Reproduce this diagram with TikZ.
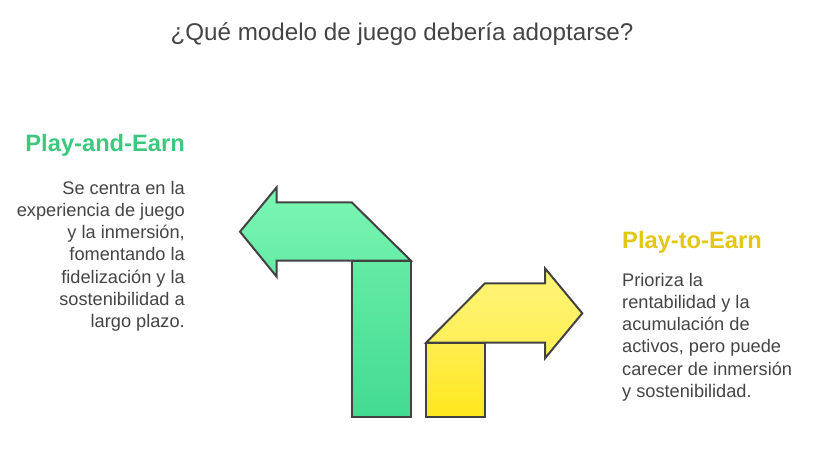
\documentclass[tikz,border=0pt]{standalone}
\usepackage{fontspec}
\setmainfont{Liberation Sans}
\definecolor{txt}{HTML}{444444}
\definecolor{edge}{HTML}{424242}
\definecolor{gHead}{HTML}{3CC97E}
\definecolor{yHead}{HTML}{E2C714}
\definecolor{gTop}{HTML}{7CF6B4}
\definecolor{gMid}{HTML}{64EBA5}
\definecolor{gBot}{HTML}{43DA92}
\definecolor{yTop}{HTML}{FFF47A}
\definecolor{yMid}{HTML}{FFEE52}
\definecolor{yBot}{HTML}{FFE81C}
\tikzset{
  shapeline/.style={draw=edge, line width=2pt, line join=miter},
  body/.style={inner sep=0pt, text=txt, font=\fontsize{18.2}{22.2}\selectfont},
  headg/.style={inner sep=0pt, text=gHead, font=\fontsize{23.7}{26}\selectfont\bfseries},
  heady/.style={inner sep=0pt, text=yHead, font=\fontsize{23.7}{26}\selectfont\bfseries},
}
\begin{document}
\begin{tikzpicture}[x=1pt,y=-1pt]
\useasboundingbox (0,0) rectangle (824,449);
% title
\node[inner sep=0pt, anchor=base, text=txt, font=\fontsize{24.2}{28}\selectfont] (title) at (402,41) {¿Qué modelo de juego debería adoptarse?};
% green arrow
\shade[shapeline, top color=gTop, bottom color=gMid] (240,231.7) -- (276.7,187.3) -- (276.7,202.3) -- (351.7,202.3) -- (411,260.7) -- (276.7,260.7) -- (276.7,276.7) -- cycle;
\shade[shapeline, top color=gMid, bottom color=gBot] (351.7,260.7) rectangle (411,417.3);
% yellow arrow
\shade[shapeline, top color=yTop, bottom color=yMid] (426,342.7) -- (485,283.3) -- (545,283.3) -- (545,268.3) -- (582.3,313.3) -- (545,358.3) -- (545,342.7) -- cycle;
\shade[shapeline, top color=yMid, bottom color=yBot] (426,342.7) rectangle (485,416.7);
% left text
\node[headg, anchor=base east] (pae) at (185,152) {Play-and-Earn};
\node[body, anchor=north east, align=right] (paeb) at (185,181) {\rule{0pt}{12pt}Se centra en la\\experiencia de juego\\y la inmersión,\\fomentando la\\fidelización y la\\sostenibilidad a\\largo plazo.};
% right text
\node[heady, anchor=base west] (pte) at (622,248) {Play-to-Earn};
\node[body, anchor=north west, align=left] (pteb) at (622,273) {\rule{0pt}{12pt}Prioriza la\\rentabilidad y la\\acumulación de\\activos, pero puede\\carecer de inmersión\\y sostenibilidad.};
\end{tikzpicture}
\end{document}
